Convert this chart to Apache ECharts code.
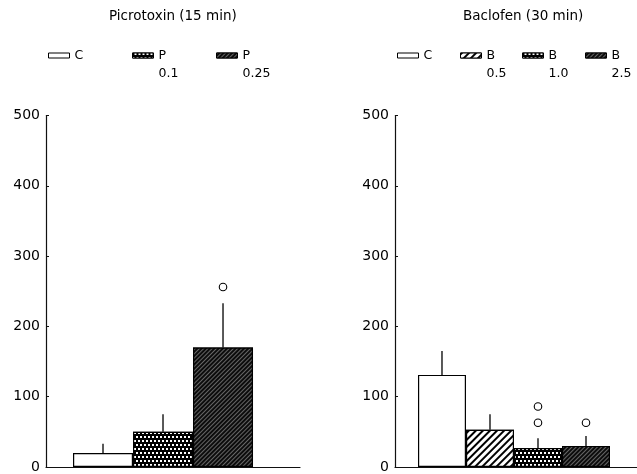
<!DOCTYPE html>
<html>
<head>
<meta charset="utf-8">
<script src="https://cdn.jsdelivr.net/npm/echarts@6/dist/echarts.min.js"></script>
<style>html,body{margin:0;padding:0;background:#fff}#c{width:637px;height:474px}</style>
</head>
<body>
<div id="c"></div>
<script>
// ---- data ----
const picTitle = 'Picrotoxin (15 min)';
const picCategories = ['C', 'P 0.1', 'P 0.25'];
const picLegendLines = [['C', ''], ['P', '0.1'], ['P', '0.25']];
const picMeans = [20, 50, 170];
const picErrTop = [33, 75, 233];
const picMarkers = [[], [], [256]];

const bacTitle = 'Baclofen (30 min)';
const bacCategories = ['C', 'B 0.5', 'B 1.0', 'B 2.5'];
const bacLegendLines = [['C', ''], ['B', '0.5'], ['B', '1.0'], ['B', '2.5']];
const bacMeans = [131, 53, 27, 30];
const bacErrTop = [165, 75, 41, 44];
const bacMarkers = [[], [], [86, 63], [63]];

const yTicks = [0, 100, 200, 300, 400, 500];

// ---- styles ----
const FONT = 'DejaVu Sans';
const white = { color: '#fff', decal: null };
const cross = { color: '#000', decal: { symbol: 'rect', symbolSize: 1, color: '#fff', backgroundColor: '#000', dashArrayX: [[2, 2], [0, 2, 2, 0]], dashArrayY: [2, 2] } };
const hatch = { color: '#fff', decal: { symbol: 'rect', symbolSize: 1, color: '#000', backgroundColor: '#fff', dashArrayX: [1, 0], dashArrayY: [1.1, 2.6], rotation: -Math.PI / 4 } };
const dense = { color: '#0c0c0c', decal: { symbol: 'rect', symbolSize: 1, color: '#666', backgroundColor: '#0c0c0c', dashArrayX: [1, 0], dashArrayY: [0.7, 2], rotation: -Math.PI / 4 } };
const picFills = [white, cross, dense];
const bacFills = [white, hatch, cross, dense];

const panels = [
  { title: picTitle, cats: picCategories, lines: picLegendLines, means: picMeans, err: picErrTop, marks: picMarkers, fills: picFills,
    grid: { left: 46, right: 337 }, xRange: [-0.95, 3.283], barWidth: 60, titleLeft: 109, legendLeft: [48, 132, 216], key: 'pic' },
  { title: bacTitle, cats: bacCategories, lines: bacLegendLines, means: bacMeans, err: bacErrTop, marks: bacMarkers, fills: bacFills,
    grid: { left: 395, right: 0 }, xRange: [-0.979, 4.0625], barWidth: 48, titleLeft: 463, legendLeft: [397, 460, 522, 585], key: 'bac' }
];

const option = { animation: false, title: [], grid: [], xAxis: [], yAxis: [], series: [], legend: [] };
const legendLabel = {};

panels.forEach((p, g) => {
  option.title.push({ text: p.title, left: p.titleLeft, top: 9, padding: 0,
    textStyle: { fontFamily: FONT, fontSize: 13.5, fontWeight: 'normal', color: '#000' } });
  option.grid.push({ left: p.grid.left, right: p.grid.right, top: 115.5, bottom: 6 });
  option.xAxis.push({ gridIndex: g, type: 'value', min: p.xRange[0], max: p.xRange[1],
    axisLine: { show: true, onZero: false, lineStyle: { color: '#111', width: 1.2 } },
    axisTick: { show: false }, axisLabel: { show: false }, splitLine: { show: false } });
  option.yAxis.push({ gridIndex: g, type: 'value', min: yTicks[0], max: yTicks[yTicks.length - 1], interval: yTicks[1] - yTicks[0],
    axisLine: { show: true, onZero: false, lineStyle: { color: '#111', width: 1.2 } },
    axisTick: { show: true, inside: true, length: 3, lineStyle: { color: '#111' } },
    axisLabel: { margin: 6, fontFamily: FONT, fontSize: 14, color: '#000' },
    splitLine: { show: false } });

  p.cats.forEach((c, i) => {
    const name = p.key + ':' + c;
    legendLabel[name] = p.lines[i];
    option.series.push({ type: 'bar', name: name, xAxisIndex: g, yAxisIndex: g,
      data: [[i, p.means[i]]], barWidth: p.barWidth, barGap: '-100%',
      itemStyle: Object.assign({ borderColor: '#000', borderWidth: 1.2 }, p.fills[i]) });
    option.legend.push({ data: [name], left: p.legendLeft[i], top: 31.5, padding: 0,
      icon: 'rect', itemWidth: 21, itemHeight: 5, selectedMode: false,
      itemStyle: { borderWidth: 1 },
      formatter: n => '{s| }\n{a|' + legendLabel[n][0] + '}\n{b|' + (legendLabel[n][1] || ' ') + '}',
      textStyle: { fontFamily: FONT, fontSize: 12, color: '#000',
        rich: { s: { lineHeight: 18, fontFamily: FONT, fontSize: 12 }, a: { lineHeight: 18, fontFamily: FONT, fontSize: 12.5, color: '#000' }, b: { lineHeight: 18, fontFamily: FONT, fontSize: 12.5, color: '#000' } } } });
  });

  option.series.push({ type: 'custom', xAxisIndex: g, yAxisIndex: g,
    data: p.cats.map((c, i) => [i, p.means[i], p.err[i]]),
    encode: { x: 0, y: [1, 2] },
    renderItem: (params, api) => {
      const a = api.coord([api.value(0), api.value(1)]);
      const b = api.coord([api.value(0), api.value(2)]);
      return { type: 'line', shape: { x1: a[0], y1: a[1], x2: b[0], y2: b[1] }, style: { stroke: '#000', lineWidth: 1.3 } };
    }, z: 5 });

  const markData = [];
  p.marks.forEach((arr, i) => arr.forEach(v => markData.push([i, v])));
  option.series.push({ type: 'scatter', xAxisIndex: g, yAxisIndex: g, data: markData,
    symbol: 'circle', symbolSize: 7.5, itemStyle: { color: '#fff', borderColor: '#000', borderWidth: 1.1, opacity: 1 }, z: 6 });
});

const chart = echarts.init(document.getElementById('c'), null, { renderer: 'canvas' });
chart.setOption(option);
</script>
</body>
</html>
